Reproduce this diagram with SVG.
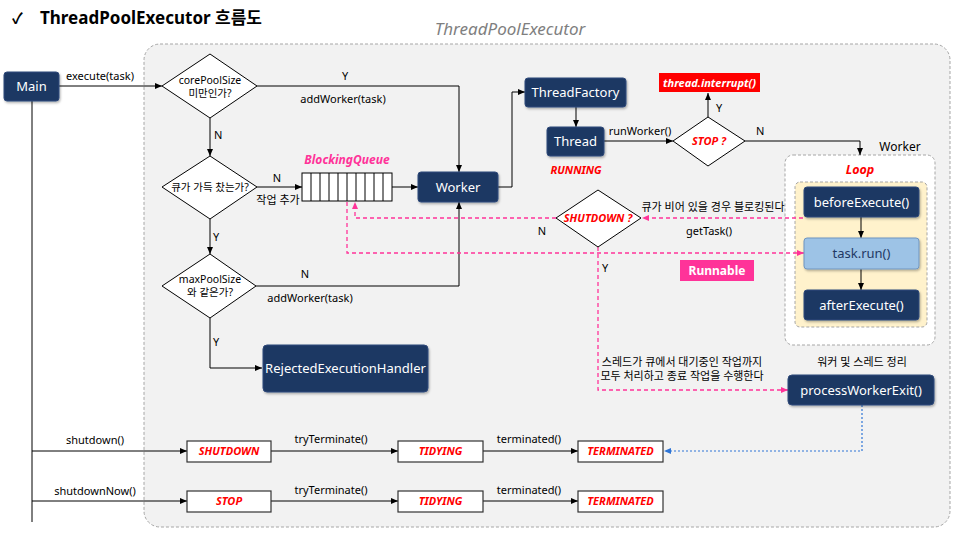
<svg xmlns="http://www.w3.org/2000/svg" width="960" height="539" viewBox="0 0 960 539">
<style>
text{font-family:"Noto Sans","Noto Sans CJK KR",sans-serif;}
.lbl{font-size:11px;fill:#000;}
.lblc{font-size:11px;fill:#000;text-anchor:middle;}
.nav{fill:#1f3864;stroke:#2f4a7a;stroke-width:1;}
.navt{font-size:13px;fill:#fff;text-anchor:middle;}
.dia{fill:#fff;stroke:#000;stroke-width:1;}
.diat{font-size:10.5px;fill:#000;text-anchor:middle;}
.st{fill:#fff;stroke:#333;stroke-width:1.2;}
.stt{font-size:11px;fill:#ff0000;font-style:italic;font-weight:bold;text-anchor:middle;}
.ln{fill:none;stroke:#000;stroke-width:1;}
.pk{fill:none;stroke:#ff3399;stroke-width:1.3;stroke-dasharray:4 3;}
.bl{fill:none;stroke:#2e75d6;stroke-width:1.2;stroke-dasharray:2 2;}
</style>
<defs>
<marker id="ah" markerWidth="8" markerHeight="8" refX="7" refY="4" orient="auto" markerUnits="userSpaceOnUse"><path d="M0,1 L7,4 L0,7 z" fill="#000"/></marker>
<marker id="ahp" markerWidth="8" markerHeight="8" refX="7" refY="4" orient="auto" markerUnits="userSpaceOnUse"><path d="M0,1 L7,4 L0,7 z" fill="#ff3399"/></marker>
<marker id="ahb" markerWidth="8" markerHeight="8" refX="7" refY="4" orient="auto" markerUnits="userSpaceOnUse"><path d="M0,1 L7,4 L0,7 z" fill="#2e75d6"/></marker>
<filter id="sh" x="-10%" y="-10%" width="130%" height="140%"><feDropShadow dx="1" dy="1.5" stdDeviation="1" flood-color="#000" flood-opacity="0.3"/></filter>
</defs>
<rect width="960" height="539" fill="#fff"/>
<!-- title -->
<text x="12" y="24" font-size="15" font-weight="bold" fill="#000">✓</text>
<text x="40" y="24" font-size="17" font-weight="bold" fill="#000">ThreadPoolExecutor 흐름도</text>
<!-- container -->
<g id="container">
<rect x="144" y="44" width="806" height="483" rx="16" fill="#f2f2f2" stroke="#a6a6a6" stroke-dasharray="3 2"/>
<text x="510" y="35" font-size="17" font-style="italic" fill="#7f7f7f" text-anchor="middle">ThreadPoolExecutor</text>
</g>
<g id="workerbox">
<text x="900" y="151" font-size="12" fill="#000" text-anchor="middle">Worker</text>
<rect x="785" y="155" width="150" height="190" rx="8" fill="#fff" stroke="#a6a6a6" stroke-dasharray="3 2"/>
<text x="860" y="174" font-size="12.5" font-style="italic" font-weight="bold" fill="#ff0000" text-anchor="middle">Loop</text>
<rect x="795" y="182" width="132" height="145" rx="5" fill="#fff2cc" stroke="#a6a6a6" stroke-dasharray="3 2"/>
</g>
<!-- connectors -->
<g id="connectors">
<line x1="32" y1="101" x2="32" y2="522" class="ln" stroke-width="1.3"/>
<line x1="59" y1="86" x2="162" y2="86" class="ln" marker-end="url(#ah)"/>
<text x="100" y="80" class="lblc">execute(task)</text>
<polyline points="257,86 459,86 459,172" class="ln" marker-end="url(#ah)"/>
<text x="345" y="80" class="lblc" font-size="12">Y</text>
<text x="343" y="103" class="lblc">addWorker(task)</text>
<line x1="210" y1="118" x2="210" y2="156" class="ln" marker-end="url(#ah)"/>
<text x="214" y="139" class="lbl" font-size="12">N</text>
<line x1="257" y1="187" x2="302" y2="187" class="ln" marker-end="url(#ah)"/>
<text x="277" y="182" class="lblc" font-size="12">N</text>
<text x="278" y="204" class="lblc">작업 추가</text>
<line x1="392" y1="187" x2="418" y2="187" class="ln" marker-end="url(#ah)"/>
<polyline points="498,187 512,187 512,92 525,92" class="ln" marker-end="url(#ah)"/>
<line x1="576" y1="107" x2="576" y2="127" class="ln" marker-end="url(#ah)"/>
<line x1="604" y1="141" x2="673" y2="141" class="ln" marker-end="url(#ah)"/>
<text x="640" y="135" class="lblc">runWorker()</text>
<line x1="708" y1="117" x2="708" y2="93" class="ln" marker-end="url(#ah)"/>
<text x="716" y="112" class="lbl" font-size="12">Y</text>
<polyline points="745,141 860,141 860,155" class="ln" marker-end="url(#ah)"/>
<text x="756" y="135" class="lbl" font-size="12">N</text>
<line x1="210" y1="219" x2="210" y2="254" class="ln" marker-end="url(#ah)"/>
<text x="213" y="241" class="lbl" font-size="12">Y</text>
<polyline points="256,286 459,286 459,202" class="ln" marker-end="url(#ah)"/>
<text x="305" y="278" class="lblc" font-size="12">N</text>
<text x="310" y="302" class="lblc">addWorker(task)</text>
<polyline points="210,318 210,368 262,368" class="ln" marker-end="url(#ah)"/>
<text x="213" y="346" class="lbl" font-size="12">Y</text>
<line x1="861" y1="217" x2="861" y2="238" class="ln" marker-end="url(#ah)"/>
<line x1="861" y1="269" x2="861" y2="290" class="ln" marker-end="url(#ah)"/>
<!-- pink -->
<line x1="803" y1="218" x2="642" y2="218" class="pk" marker-end="url(#ahp)"/>
<text x="713" y="211" class="lblc">큐가 비어 있을 경우 블로킹된다</text>
<text x="709" y="235" class="lblc">getTask()</text>
<polyline points="556,218 355,218 355,202" class="pk" marker-end="url(#ahp)"/>
<text x="542" y="235" class="lblc" font-size="12">N</text>
<polyline points="347,202 347,253 804,253" class="pk" marker-end="url(#ahp)"/>
<polyline points="598,247 598,390 788,390" class="pk" marker-end="url(#ahp)"/>
<text x="602" y="272" class="lbl" font-size="12">Y</text>
<text x="682" y="366" class="lblc">스레드가 큐에서 대기중인 작업까지</text>
<text x="682" y="380" class="lblc">모두 처리하고 종료 작업을 수행한다</text>
<polyline points="862,405 862,451 664,451" class="bl" marker-end="url(#ahb)"/>
<!-- bottom rows -->
<line x1="32" y1="451" x2="187" y2="451" class="ln" marker-end="url(#ah)"/>
<text x="95" y="444" class="lblc">shutdown()</text>
<line x1="271" y1="451" x2="398" y2="451" class="ln" marker-end="url(#ah)"/>
<text x="331" y="443" class="lblc">tryTerminate()</text>
<line x1="483" y1="451" x2="578" y2="451" class="ln" marker-end="url(#ah)"/>
<text x="529" y="443" class="lblc">terminated()</text>
<line x1="32" y1="501" x2="187" y2="501" class="ln" marker-end="url(#ah)"/>
<text x="95" y="495" class="lblc">shutdownNow()</text>
<line x1="271" y1="501" x2="398" y2="501" class="ln" marker-end="url(#ah)"/>
<text x="331" y="494" class="lblc">tryTerminate()</text>
<line x1="483" y1="501" x2="578" y2="501" class="ln" marker-end="url(#ah)"/>
<text x="529" y="494" class="lblc">terminated()</text>
</g>
<!-- nodes -->
<g id="main"><rect x="4" y="72" width="55" height="29" rx="3" class="nav" filter="url(#sh)"/><text x="31.5" y="91" class="navt">Main</text></g>
<g id="d-core"><polygon points="210,54 257,86 210,118 162,86" class="dia"/><text x="210" y="84" class="diat">corePoolSize</text><text x="210" y="97" class="diat">미만인가?</text></g>
<g id="d-full"><polygon points="210,156 257,187 210,219 162,187" class="dia"/><text x="210" y="191" class="diat">큐가 가득 찼는가?</text></g>
<g id="d-max"><polygon points="210,254 256,286 210,318 162,286" class="dia"/><text x="210" y="283" class="diat">maxPoolSize</text><text x="210" y="296" class="diat">와 같은가?</text></g>
<g id="queue">
<text x="347" y="164" font-size="12" font-style="italic" font-weight="bold" fill="#ff3399" text-anchor="middle">BlockingQueue</text>
<rect x="302" y="173" width="90" height="28" fill="#fff" stroke="#000"/>
<path d="M311,173V201M320,173V201M329,173V201M338,173V201M347,173V201M356,173V201M365,173V201M374,173V201M383,173V201" stroke="#000" stroke-width="1"/>
</g>
<g id="worker"><rect x="418" y="172" width="80" height="30" rx="3" class="nav" filter="url(#sh)"/><text x="458" y="192" class="navt">Worker</text></g>
<g id="threadfactory"><rect x="525" y="78" width="101" height="29" rx="3" class="nav" filter="url(#sh)"/><text x="575.5" y="97" class="navt">ThreadFactory</text></g>
<g id="thread"><rect x="547" y="127" width="57" height="29" rx="3" class="nav" filter="url(#sh)"/><text x="575.5" y="146" class="navt">Thread</text><text x="576" y="174" class="stt" font-size="10.5">RUNNING</text></g>
<g id="d-stop"><polygon points="708,117 745,141 708,166 673,141" class="dia"/><text x="709" y="145" class="stt" font-size="10.5">STOP ?</text></g>
<g id="interrupt"><rect x="659" y="73" width="101" height="19" fill="#ff0000"/><text x="709.5" y="87" font-size="11" font-style="italic" font-weight="bold" fill="#fff" text-anchor="middle">thread.interrupt()</text></g>
<g id="before"><rect x="804" y="187" width="115" height="30" rx="3" class="nav" filter="url(#sh)"/><text x="861.5" y="207" class="navt">beforeExecute()</text></g>
<g id="taskrun"><rect x="804" y="238" width="115" height="31" rx="3" fill="#9dc3e6" stroke="#6f95c0" filter="url(#sh)"/><text x="861.5" y="258" class="navt" style="fill:#1f3864">task.run()</text></g>
<g id="after"><rect x="804" y="290" width="115" height="30" rx="3" class="nav" filter="url(#sh)"/><text x="861.5" y="310" class="navt">afterExecute()</text></g>
<g id="d-shutdown"><polygon points="598,190 641,218 598,247 556,218" class="dia"/><text x="598" y="222" class="stt" font-size="10">SHUTDOWN ?</text></g>
<g id="runnable"><rect x="680" y="260" width="74" height="21" fill="#ff3399"/><text x="717" y="275" font-size="12" font-weight="bold" fill="#fff" text-anchor="middle">Runnable</text></g>
<g id="rejected"><rect x="263" y="345" width="165" height="47" rx="4" class="nav" filter="url(#sh)"/><text x="345.5" y="373" class="navt">RejectedExecutionHandler</text></g>
<g id="pwe"><text x="862" y="366" class="lblc">워커 및 스레드 정리</text><rect x="788" y="375" width="146" height="30" rx="4" class="nav" filter="url(#sh)"/><text x="861" y="395" class="navt">processWorkerExit()</text></g>
<g id="s-shutdown"><rect x="187" y="441" width="84" height="21" class="st"/><text x="229" y="455" class="stt">SHUTDOWN</text></g>
<g id="s-tidying1"><rect x="398" y="441" width="85" height="21" class="st"/><text x="440.5" y="455" class="stt">TIDYING</text></g>
<g id="s-terminated1"><rect x="578" y="441" width="85" height="21" class="st"/><text x="620.5" y="455" class="stt">TERMINATED</text></g>
<g id="s-stop"><rect x="187" y="491" width="84" height="21" class="st"/><text x="229" y="505" class="stt">STOP</text></g>
<g id="s-tidying2"><rect x="398" y="491" width="85" height="21" class="st"/><text x="440.5" y="505" class="stt">TIDYING</text></g>
<g id="s-terminated2"><rect x="578" y="491" width="85" height="21" class="st"/><text x="620.5" y="505" class="stt">TERMINATED</text></g>
</svg>
